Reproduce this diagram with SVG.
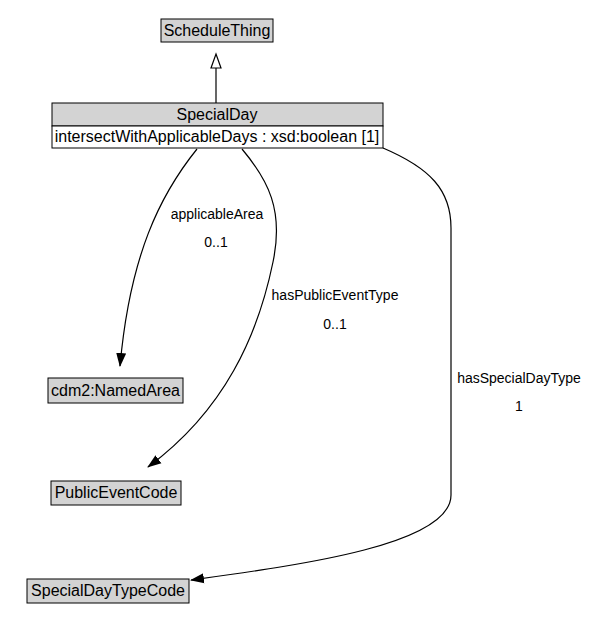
<svg xmlns="http://www.w3.org/2000/svg" width="594" height="641" viewBox="0 0 594 641">
<style>
.box{fill:#d3d3d3;stroke:#000;stroke-width:1}
.attr{fill:#fff;stroke:#000;stroke-width:1}
.nt{font-family:"Liberation Sans",Arial,sans-serif;font-size:16px;fill:#000;text-anchor:middle}
.el{font-family:"Liberation Sans",Arial,sans-serif;font-size:14px;fill:#000;text-anchor:middle}
.edge{fill:none;stroke:#000;stroke-width:1.2}
</style>
<defs>
<marker id="arr" markerWidth="14" markerHeight="12" refX="13" refY="5" orient="auto" markerUnits="userSpaceOnUse" viewBox="0 0 14 10">
<path d="M0,0 L14,5 L0,10 Z" fill="#000"/>
</marker>
</defs>
<rect width="594" height="641" fill="#fff"/>
<g id="connectors">
<g id="gen">
<line class="edge" x1="216" y1="103" x2="216" y2="68"/>
<path d="M211,68 L216,54 L221,68 Z" fill="#fff" stroke="#000" stroke-width="1.2"/>
</g>
<path id="e-applicableArea" class="edge" d="M197,149 C160,195 130,255 120,366" marker-end="url(#arr)"/>
<path id="e-hasPublicEventType" class="edge" d="M242,149 C268,180 284,210 273,262 C258,335 225,410 148,467" marker-end="url(#arr)"/>
<path id="e-hasSpecialDayType" class="edge" d="M383,148 C430,168 451,190 451,228 L451,495 C451,545 300,565 191,580" marker-end="url(#arr)"/>
<text class="el" x="217" y="219">applicableArea</text>
<text class="el" x="216" y="247">0..1</text>
<text class="el" x="335" y="300">hasPublicEventType</text>
<text class="el" x="335" y="329">0..1</text>
<text class="el" x="519" y="383">hasSpecialDayType</text>
<text class="el" x="519" y="411">1</text>
</g>
<g id="ScheduleThing">
<rect class="box" x="161" y="19" width="112" height="23"/>
<text class="nt" x="217" y="36">ScheduleThing</text>
</g>
<g id="SpecialDay">
<rect class="box" x="52" y="103" width="331" height="23"/>
<rect class="attr" x="52" y="126" width="331" height="22"/>
<text class="nt" x="217" y="120">SpecialDay</text>
<text class="nt" x="217" y="142">intersectWithApplicableDays : xsd:boolean [1]</text>
</g>
<g id="NamedArea">
<rect class="box" x="48" y="378" width="135" height="25"/>
<text class="nt" x="115.5" y="396">cdm2:NamedArea</text>
</g>
<g id="PublicEventCode">
<rect class="box" x="51" y="481" width="130" height="24"/>
<text class="nt" x="116" y="498">PublicEventCode</text>
</g>
<g id="SpecialDayTypeCode">
<rect class="box" x="27" y="579" width="162" height="24"/>
<text class="nt" x="108" y="596">SpecialDayTypeCode</text>
</g>
</svg>
